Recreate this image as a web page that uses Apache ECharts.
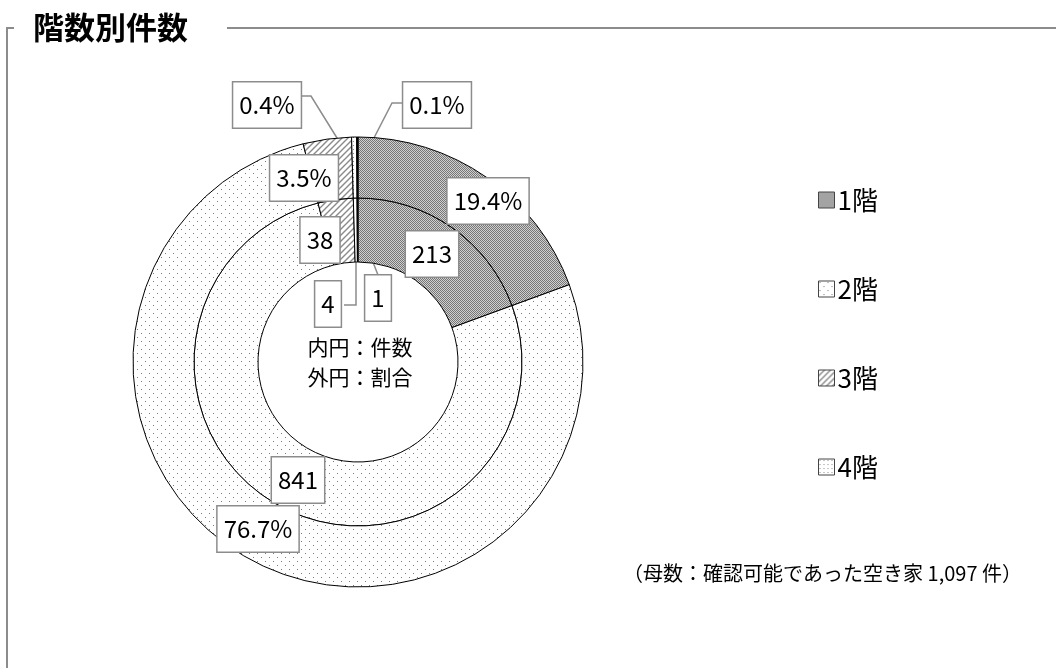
<!DOCTYPE html>
<html>
<head>
<meta charset="UTF-8">
<title>階数別件数</title>
<style>
  * { margin: 0; padding: 0; }
  #main { width: 1056px; height: 668px; background: #fff; }
</style>
<script src="https://cdn.jsdelivr.net/npm/echarts@6/dist/echarts.min.js"></script>
</head>
<body>
<div id="main"></div>
<script>
// data
var floors = ['1階', '2階', '3階', '4階', '5階以上'];
var counts = [213, 841, 38, 4, 1];
var legendNames = ['1階', '2階', '3階', '4階'];
var titleText = '階数別件数';
var centerText = '内円：件数\n外円：割合';
var noteText = '（母数：確認可能であった空き家 1,097 件）';

var total = counts.reduce(function (a, b) { return a + b; }, 0);

// layout
var cx = 358, cy = 362;
var jpFont = "'Noto Sans CJK JP', sans-serif";
var lineGray = '#8c8c8c';

// label centres relative to the pie centre
var innerOffsets = [[74, -108], [-60, 118], [-38, -122], [-30, -58], [20, -64]];
var outerOffsets = [[130, -161], [-100, 167], [-54, -184], [-91, -257], [79, -257]];
// leader lines (sector -> elbow -> label), relative to the centre
var innerLeaders = [null, null, null, [[-2, -102], [-2, -57], [-14, -57]], [[1, -132], [11, -110], [20, -87]]];
var outerLeaders = [null, null, null, [[-3, -195], [-47, -266], [-58, -266]], [[1, -195], [34, -259], [46, -259]]];

function pattern(size, draw) {
  var c = document.createElement('canvas');
  c.width = size; c.height = size;
  var ctx = c.getContext('2d');
  ctx.fillStyle = '#fff';
  ctx.fillRect(0, 0, size, size);
  draw(ctx);
  return { image: c, repeat: 'repeat' };
}

var fills = [
  pattern(2, function (ctx) {
    ctx.fillStyle = '#d0d0d0'; ctx.fillRect(0, 0, 2, 2);
    ctx.fillStyle = '#767676'; ctx.fillRect(0, 0, 1, 1); ctx.fillRect(1, 1, 1, 1);
  }),
  pattern(8, function (ctx) {
    ctx.fillStyle = '#7a7a7a'; ctx.fillRect(1, 1, 1, 1); ctx.fillRect(5, 5, 1, 1);
  }),
  pattern(6, function (ctx) {
    ctx.strokeStyle = '#8a8a8a'; ctx.lineWidth = 1.4;
    ctx.beginPath();
    ctx.moveTo(-1, 1); ctx.lineTo(1, -1);
    ctx.moveTo(0, 6); ctx.lineTo(6, 0);
    ctx.moveTo(5, 7); ctx.lineTo(7, 5);
    ctx.stroke();
  }),
  pattern(4, function (ctx) {
    ctx.fillStyle = '#8a8a8a'; ctx.fillRect(1, 1, 1, 1);
  }),
  '#000'
];

function buildData(leaders) {
  return floors.map(function (name, i) {
    return {
      name: name,
      value: counts[i],
      itemStyle: { color: fills[i] },
      labelLine: { show: !!leaders[i] }
    };
  });
}

function layoutFn(offsets, leaders) {
  return function (params) {
    var i = params.dataIndex;
    var o = offsets[i];
    var res = { x: cx + o[0], y: cy + o[1], align: 'center', verticalAlign: 'middle' };
    if (leaders[i]) {
      res.labelLinePoints = leaders[i].map(function (p) { return [cx + p[0], cy + p[1]]; });
    }
    return res;
  };
}

var labelBox = {
  show: true,
  position: 'outside',
  color: '#000',
  fontFamily: jpFont,
  fontSize: 24,
  lineHeight: 27,
  backgroundColor: '#fff',
  borderColor: lineGray,
  borderWidth: 1.5,
  padding: [9, 6]
};

var myChart = echarts.init(document.getElementById('main'), null, { renderer: 'canvas' });
var option = {
  animation: false,
  backgroundColor: '#fff',
  title: {
    text: titleText,
    left: 33,
    top: 12,
    padding: 0,
    textStyle: { fontFamily: jpFont, fontSize: 31, fontWeight: 'bold', color: '#000' }
  },
  legend: {
    data: legendNames,
    orient: 'vertical',
    left: 813,
    top: 182,
    itemGap: 63,
    itemWidth: 16,
    itemHeight: 16,
    icon: 'rect',
    itemStyle: { borderColor: '#444', borderWidth: 1 },
    textStyle: { fontFamily: jpFont, fontSize: 26, color: '#000', padding: [0, 0, 0, -2] }
  },
  graphic: [
    { type: 'line', shape: { x1: 7, y1: 28, x2: 14, y2: 28 }, style: { stroke: lineGray, lineWidth: 2 } },
    { type: 'line', shape: { x1: 7, y1: 27, x2: 7, y2: 668 }, style: { stroke: lineGray, lineWidth: 2 } },
    { type: 'line', shape: { x1: 227, y1: 28, x2: 1056, y2: 28 }, style: { stroke: lineGray, lineWidth: 2 } },
    {
      type: 'text', x: cx + 2, y: cy, z: 10,
      style: { text: centerText, font: '21px ' + jpFont, fill: '#000', textAlign: 'center', textVerticalAlign: 'middle', lineHeight: 30 }
    },
    {
      type: 'text', x: 1022, y: 573, z: 10,
      style: { text: noteText, font: '20px ' + jpFont, fill: '#000', textAlign: 'right', textVerticalAlign: 'middle' }
    }
  ],
  series: [
    {
      name: '件数',
      type: 'pie',
      center: [cx, cy],
      radius: [100, 164],
      startAngle: 90,
      clockwise: true,
      avoidLabelOverlap: false,
      itemStyle: { borderColor: '#000', borderWidth: 1 },
      label: Object.assign({}, labelBox, { formatter: '{c}' }),
      labelLine: { lineStyle: { color: lineGray, width: 1.5 }, smooth: false },
      labelLayout: layoutFn(innerOffsets, innerLeaders),
      emphasis: { disabled: true },
      data: buildData(innerLeaders)
    },
    {
      name: '割合',
      type: 'pie',
      center: [cx, cy],
      radius: [164, 225],
      startAngle: 90,
      clockwise: true,
      avoidLabelOverlap: false,
      itemStyle: { borderColor: '#000', borderWidth: 1 },
      label: Object.assign({}, labelBox, {
        formatter: function (p) { return (p.value / total * 100).toFixed(1) + '%'; }
      }),
      labelLine: { lineStyle: { color: lineGray, width: 1.5 }, smooth: false },
      labelLayout: layoutFn(outerOffsets, outerLeaders),
      emphasis: { disabled: true },
      data: buildData(outerLeaders)
    }
  ]
};
myChart.setOption(option);
</script>
</body>
</html>
